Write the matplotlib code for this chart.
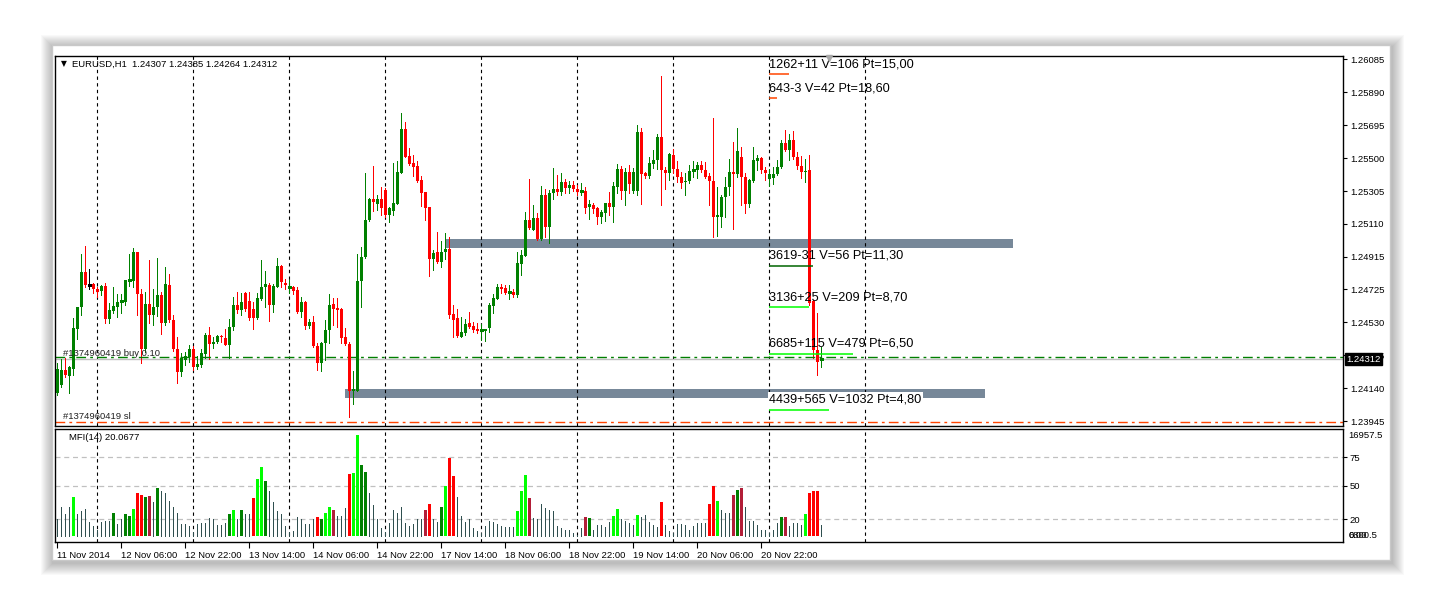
import matplotlib
matplotlib.use("Agg")
import matplotlib.pyplot as plt
import matplotlib.transforms as mtransforms
from matplotlib.patches import Rectangle
import numpy as np

plt.rcParams['font.family'] = ['Liberation Sans', 'DejaVu Sans']

# ---------------- data ----------------
symbol = "EURUSD,H1"
opens = [
 1.24109, 1.24159, 1.24247, 1.24212, 1.24251, 1.24492, 1.24618, 1.24826, 1.24750, 1.24756,
 1.24726, 1.24716, 1.24744, 1.24551, 1.24598, 1.24622, 1.24653, 1.24649, 1.24777, 1.24773,
 1.24945, 1.24694, 1.24369, 1.24637, 1.24572, 1.24618, 1.24691, 1.24523, 1.24750, 1.24543,
 1.24369, 1.24237, 1.24306, 1.24322, 1.24369, 1.24267, 1.24277, 1.24342, 1.24454, 1.24401,
 1.24411, 1.24448, 1.24438, 1.24395, 1.24503, 1.24631, 1.24602, 1.24700, 1.24657, 1.24606,
 1.24553, 1.24669, 1.24736, 1.24752, 1.24633, 1.24740, 1.24862, 1.24763, 1.24732, 1.24736,
 1.24720, 1.24590, 1.24651, 1.24507, 1.24533, 1.24391, 1.24287, 1.24405, 1.24484, 1.24637,
 1.24612, 1.24606, 1.24440, 1.24399, 1.24125, 1.24125, 1.24773, 1.24917, 1.25134, 1.25258,
 1.25228, 1.25258, 1.25311, 1.25163, 1.25189, 1.25228, 1.25414, 1.25670, 1.25512, 1.25473,
 1.25453, 1.25370, 1.25299, 1.25213, 1.24905, 1.24943, 1.24887, 1.24946, 1.24962, 1.24578,
 1.24556, 1.24444, 1.24467, 1.24523, 1.24509, 1.24491, 1.24477, 1.24479, 1.24497, 1.24627,
 1.24668, 1.24739, 1.24731, 1.24706, 1.24708, 1.24688, 1.24873, 1.24923, 1.25133, 1.25074,
 1.25145, 1.25021, 1.25281, 1.25094, 1.25291, 1.25315, 1.25301, 1.25358, 1.25325, 1.25340,
 1.25315, 1.25299, 1.25303, 1.25212, 1.25222, 1.25202, 1.25153, 1.25173, 1.25232, 1.25212,
 1.25330, 1.25435, 1.25303, 1.25417, 1.25307, 1.25305, 1.25653, 1.25413, 1.25393, 1.25462,
 1.25488, 1.25622, 1.25429, 1.25413, 1.25518, 1.25435, 1.25386, 1.25356, 1.25362, 1.25421,
 1.25429, 1.25456, 1.25429, 1.25393, 1.25366, 1.25153, 1.25153, 1.25267, 1.25326, 1.25417,
 1.25405, 1.25504, 1.25390, 1.25228, 1.25366, 1.25484, 1.25498, 1.25429, 1.25374, 1.25382,
 1.25405, 1.25445, 1.25587, 1.25547, 1.25606, 1.25508, 1.25453, 1.25417, 1.25429, 1.24657,
 1.24365, 1.24307]
highs = [
 1.24287, 1.24310, 1.24316, 1.24271, 1.24553, 1.24622, 1.24933, 1.24980, 1.24842, 1.24763,
 1.24740, 1.24748, 1.24761, 1.24641, 1.24736, 1.24696, 1.24696, 1.24779, 1.24931, 1.24970,
 1.24945, 1.24724, 1.24706, 1.24897, 1.24726, 1.24909, 1.24710, 1.24858, 1.24815, 1.24572,
 1.24440, 1.24346, 1.24356, 1.24395, 1.24389, 1.24330, 1.24369, 1.24464, 1.24503, 1.24440,
 1.24454, 1.24454, 1.24492, 1.24549, 1.24681, 1.24706, 1.24704, 1.24710, 1.24710, 1.24651,
 1.24700, 1.24897, 1.24830, 1.24760, 1.24756, 1.24909, 1.24870, 1.24785, 1.24779, 1.24744,
 1.24740, 1.24681, 1.24657, 1.24551, 1.24566, 1.24409, 1.24415, 1.24543, 1.24696, 1.24671,
 1.24673, 1.24612, 1.24498, 1.24413, 1.24243, 1.24933, 1.24976, 1.25414, 1.25262, 1.25453,
 1.25282, 1.25331, 1.25321, 1.25213, 1.25473, 1.25482, 1.25768, 1.25713, 1.25561, 1.25518,
 1.25482, 1.25394, 1.25299, 1.25213, 1.24957, 1.25063, 1.25009, 1.25055, 1.25035, 1.24631,
 1.24610, 1.24562, 1.24546, 1.24590, 1.24531, 1.24523, 1.24519, 1.24491, 1.24641, 1.24696,
 1.24755, 1.24753, 1.24749, 1.24747, 1.24724, 1.24942, 1.24956, 1.25181, 1.25376, 1.25222,
 1.25173, 1.25334, 1.25315, 1.25311, 1.25439, 1.25397, 1.25409, 1.25374, 1.25366, 1.25366,
 1.25340, 1.25350, 1.25326, 1.25252, 1.25236, 1.25212, 1.25193, 1.25236, 1.25301, 1.25358,
 1.25464, 1.25453, 1.25439, 1.25458, 1.25439, 1.25695, 1.25675, 1.25419, 1.25508, 1.25547,
 1.25642, 1.25986, 1.25449, 1.25531, 1.25551, 1.25482, 1.25415, 1.25409, 1.25456, 1.25484,
 1.25478, 1.25484, 1.25476, 1.25413, 1.25734, 1.25330, 1.25281, 1.25390, 1.25496, 1.25594,
 1.25675, 1.25563, 1.25413, 1.25378, 1.25563, 1.25518, 1.25504, 1.25449, 1.25433, 1.25445,
 1.25488, 1.25606, 1.25665, 1.25642, 1.25661, 1.25537, 1.25512, 1.25492, 1.25518, 1.24661,
 1.24586, 1.24385]
lows = [
 1.24099, 1.24149, 1.24208, 1.24109, 1.24218, 1.24428, 1.24572, 1.24740, 1.24724, 1.24700,
 1.24681, 1.24691, 1.24527, 1.24527, 1.24582, 1.24563, 1.24582, 1.24631, 1.24744, 1.24740,
 1.24572, 1.24287, 1.24356, 1.24527, 1.24511, 1.24566, 1.24458, 1.24511, 1.24533, 1.24362,
 1.24172, 1.24212, 1.24277, 1.24294, 1.24247, 1.24251, 1.24267, 1.24316, 1.24314, 1.24375,
 1.24405, 1.24415, 1.24395, 1.24316, 1.24484, 1.24582, 1.24572, 1.24596, 1.24543, 1.24492,
 1.24549, 1.24661, 1.24622, 1.24539, 1.24592, 1.24736, 1.24740, 1.24728, 1.24704, 1.24694,
 1.24582, 1.24563, 1.24488, 1.24494, 1.24385, 1.24247, 1.24243, 1.24306, 1.24405, 1.24513,
 1.24503, 1.24405, 1.24395, 1.23972, 1.24046, 1.24125, 1.24622, 1.24907, 1.25130, 1.25189,
 1.25193, 1.25163, 1.25154, 1.25124, 1.25163, 1.25228, 1.25409, 1.25504, 1.25459, 1.25394,
 1.25358, 1.25217, 1.25134, 1.24805, 1.24838, 1.24882, 1.24854, 1.24901, 1.24552, 1.24444,
 1.24440, 1.24440, 1.24454, 1.24497, 1.24473, 1.24467, 1.24424, 1.24420, 1.24473, 1.24586,
 1.24668, 1.24700, 1.24696, 1.24664, 1.24676, 1.24676, 1.24806, 1.24921, 1.25078, 1.25074,
 1.25015, 1.25015, 1.25035, 1.24999, 1.25256, 1.25281, 1.25281, 1.25291, 1.25291, 1.25307,
 1.25281, 1.25281, 1.25173, 1.25137, 1.25177, 1.25108, 1.25114, 1.25129, 1.25163, 1.25124,
 1.25291, 1.25256, 1.25222, 1.25295, 1.25291, 1.25281, 1.25228, 1.25380, 1.25380, 1.25439,
 1.25433, 1.25224, 1.25315, 1.25370, 1.25413, 1.25360, 1.25321, 1.25283, 1.25350, 1.25390,
 1.25380, 1.25419, 1.25384, 1.25224, 1.25031, 1.25039, 1.25090, 1.25153, 1.25281, 1.25078,
 1.25386, 1.25222, 1.25173, 1.25212, 1.25360, 1.25429, 1.25409, 1.25370, 1.25334, 1.25346,
 1.25399, 1.25439, 1.25543, 1.25488, 1.25492, 1.25433, 1.25379, 1.25358, 1.24631, 1.24320,
 1.24215, 1.24264]
closes = [
 1.24251, 1.24247, 1.24218, 1.24267, 1.24494, 1.24618, 1.24826, 1.24748, 1.24750, 1.24726,
 1.24710, 1.24744, 1.24551, 1.24602, 1.24626, 1.24651, 1.24655, 1.24779, 1.24779, 1.24945,
 1.24694, 1.24369, 1.24637, 1.24572, 1.24618, 1.24691, 1.24523, 1.24756, 1.24543, 1.24369,
 1.24237, 1.24316, 1.24330, 1.24369, 1.24267, 1.24283, 1.24346, 1.24454, 1.24401, 1.24415,
 1.24450, 1.24440, 1.24395, 1.24503, 1.24631, 1.24602, 1.24651, 1.24606, 1.24553, 1.24553,
 1.24671, 1.24736, 1.24756, 1.24633, 1.24744, 1.24862, 1.24769, 1.24752, 1.24736, 1.24716,
 1.24590, 1.24649, 1.24507, 1.24529, 1.24391, 1.24291, 1.24405, 1.24484, 1.24631, 1.24610,
 1.24602, 1.24438, 1.24399, 1.24125, 1.24133, 1.24773, 1.24917, 1.25134, 1.25256, 1.25238,
 1.25256, 1.25203, 1.25163, 1.25203, 1.25232, 1.25419, 1.25670, 1.25508, 1.25465, 1.25449,
 1.25364, 1.25295, 1.25207, 1.24905, 1.24937, 1.24888, 1.24946, 1.24962, 1.24572, 1.24542,
 1.24448, 1.24471, 1.24519, 1.24503, 1.24483, 1.24475, 1.24481, 1.24489, 1.24631, 1.24672,
 1.24737, 1.24728, 1.24704, 1.24710, 1.24688, 1.24877, 1.24926, 1.25133, 1.25086, 1.25145,
 1.25019, 1.25281, 1.25094, 1.25291, 1.25315, 1.25299, 1.25358, 1.25323, 1.25340, 1.25315,
 1.25301, 1.25303, 1.25206, 1.25228, 1.25200, 1.25153, 1.25179, 1.25232, 1.25212, 1.25336,
 1.25435, 1.25305, 1.25417, 1.25346, 1.25417, 1.25653, 1.25405, 1.25395, 1.25468, 1.25488,
 1.25622, 1.25429, 1.25413, 1.25521, 1.25433, 1.25386, 1.25354, 1.25366, 1.25423, 1.25429,
 1.25458, 1.25429, 1.25390, 1.25366, 1.25153, 1.25163, 1.25271, 1.25330, 1.25417, 1.25405,
 1.25543, 1.25390, 1.25228, 1.25370, 1.25488, 1.25498, 1.25429, 1.25413, 1.25405, 1.25405,
 1.25449, 1.25587, 1.25547, 1.25606, 1.25508, 1.25453, 1.25419, 1.25425, 1.24645, 1.24365,
 1.24296, 1.24312]

mfi_values = [
 20, 31, 25, 31, 40, 25, 27, 29, 18, 14,
 11, 18, 19, 19, 26, 16, 20, 25, 23, 29,
 43, 42, 40, 41, 35, 48, 45, 43, 36, 31,
 26, 16, 16, 14, 9, 16, 17, 17, 21, 20,
 15, 15, 17, 25, 28, 20, 28, 25, 25, 39,
 56, 66, 54, 45, 35, 27, 25, 14, 9, 10,
 22, 20, 16, 16, 20, 22, 20, 26, 31, 28,
 23, 23, 30, 60, 61, 95, 68, 62, 43, 33,
 20, 12, 9, 17, 28, 26, 31, 17, 14, 16,
 20, 20, 28, 34, 20, 18, 31, 50, 74, 58,
 40, 23, 18, 20, 12, 10, 8, 14, 19, 18,
 16, 14, 13, 13, 13, 27, 45, 59, 39, 21,
 20, 34, 30, 28, 27, 14, 12, 11, 11, 8,
 6, 12, 22, 21, 11, 15, 15, 13, 18, 23,
 29, 20, 19, 17, 15, 24, 22, 24, 18, 15,
 13, 35, 15, 10, 8, 16, 16, 15, 11, 14,
 17, 17, 17, 34, 50, 36, 28, 26, 26, 42,
 46, 48, 31, 19, 19, 15, 11, 11, 8, 11,
 17, 22, 22, 14, 17, 17, 15, 25, 43, 45,
 45, 15]
mfi_codes = ("nnnnLnnnnn" "nnnnGnnGGL" "RRGCnGnnnn" "nnnnnnnnnn" "nnnGLnGnnR"
             "LLGnnnnnnn" "nnnnnRGLLC" "nnnRLLGGnn" "nnnnnnnnnn" "nnCRnnGLRR"
             "nnnnnnnnnn" "nnnnnLLLCn" "nnnnnnnnnn" "nnCGnnnnnL" "LnnnnLnnnn"
             "nRnnnnnnnn" "nnnRRLnnnC" "GCnnnnnnnn" "nGCnnnnLRR" "Rn")
mfi_label = "MFI(14) 20.0677"
mfi_axis_labels = ["75", "50", "20"]
mfi_levels = [75, 50, 20]

date_labels = ["11 Nov 2014", "12 Nov 06:00", "12 Nov 22:00", "13 Nov 14:00",
               "14 Nov 06:00", "14 Nov 22:00", "17 Nov 14:00", "18 Nov 06:00",
               "18 Nov 22:00", "19 Nov 14:00", "20 Nov 06:00", "20 Nov 22:00"]
date_bars = [0, 16, 32, 48, 64, 80, 96, 112, 128, 144, 160, 176]
day_sep_bars = [10, 34, 58, 82, 106, 130, 154, 178, 202]

price_ticks = [1.26085, 1.25890, 1.25695, 1.25500, 1.25305, 1.25110,
               1.24915, 1.24725, 1.24530, 1.24335, 1.24140, 1.23945]
bid_price = 1.24312
buy_price = 1.24325
sl_price = 1.23940
order_text = ["#1374960419 buy 0.10", "#1374960419 sl"]
order_text_prices = [1.24346, 1.23975]

zone_start = [97, 72]
zone_end = [239, 232]
zone_low = [1.24970, 1.24083]
zone_high = [1.25021, 1.24136]

ann_texts = ["1262+11 V=106 Pt=15,00", "643-3 V=42 Pt=18,60", "3619-31 V=56 Pt=11,30",
             "3136+25 V=209 Pt=8,70", "6685+115 V=479 Pt=6,50", "4439+565 V=1032 Pt=4,80"]
ann_text_prices = [1.26050, 1.25911, 1.24921, 1.24678, 1.24401, 1.24070]
ann_line_prices = [1.25995, 1.25855, 1.24862, 1.24619, 1.24341, 1.24011]
ann_line_end = [183, 180, 189, 188, 199, 193]
ann_colors = ['#FF4500', '#FF4500', '#006400', '#00FF00', '#00FF00', '#00FF00']
ann_start = 178

# ---------------- figure ----------------
W, H = 1442, 614
fig = plt.figure(figsize=(W / 100, H / 100), dpi=100)
fig.patch.set_facecolor('white')

def fx(px):
    return px / W

def fy(py):
    return 1 - py / H

# window shadow + window
wx0, wy0, wx1, wy1 = 52, 45, 1390, 560
for k in range(12, 0, -1):
    r = Rectangle((fx(wx0 - k + 1), fy(wy1 + k + 3)), fx(wx1 - wx0 + 2 * k + 1), (wy1 - wy0 + 2 * k + 1) / H,
                  transform=fig.transFigure, facecolor=(0.25, 0.25, 0.25), alpha=0.03,
                  edgecolor='none', zorder=-20)
    fig.patches.append(r)
fig.patches.append(Rectangle((fx(wx0), fy(wy1)), fx(wx1 - wx0), (wy1 - wy0) / H,
                             transform=fig.transFigure, facecolor='white',
                             edgecolor='#C8C8C8', lw=1, zorder=-10))

ax = fig.add_axes([fx(55), fy(426), fx(1343) - fx(55), fy(56) - fy(426)])
axm = fig.add_axes([fx(55), fy(542), fx(1343) - fx(55), fy(429) - fy(542)])

n = len(opens)
idx = np.arange(n)
o = np.array(opens); h = np.array(highs); l = np.array(lows); c = np.array(closes)
# 4 px per bar; bar centres fall on pixel centres
xmin, xmax = -0.625, 321.375
bw = 0.74

# ---------------- price panel ----------------
ax.set_xlim(xmin, xmax)
ax.set_ylim(1.23916, 1.26103)

for s, e, lo, hi in zip(zone_start, zone_end, zone_low, zone_high):
    ax.add_patch(Rectangle((s, lo), e - s, hi - lo, facecolor='#778899',
                           edgecolor='none', zorder=1))

for d in day_sep_bars:
    ax.axvline(d, color='black', lw=0.8, ls=(0, (3, 3)), zorder=1.5)

cols = np.where(c > o, '#008000', np.where(c < o, '#FF0000', '#000000'))
ax.vlines(idx, l, h, colors=cols, lw=0.72, zorder=2, antialiased=False)
body_lo = np.minimum(o, c)
body_h = np.abs(c - o)
ax.bar(idx, body_h, bottom=body_lo, width=bw, color=cols, lw=0,
       zorder=3, antialiased=False)
flat = body_h < 0.00008
ax.hlines(c[flat], idx[flat] - bw / 2, idx[flat] + bw / 2, colors=cols[flat], lw=0.9,
          zorder=3, antialiased=False)

# order lines
ax.axhline(bid_price, color='#C0C0C0', lw=1, zorder=1.8)
ax.axhline(buy_price, color='#007F00', lw=1, ls=(0, (7, 3, 2, 3)), zorder=2.5)
ax.axhline(sl_price, color='#FF4500', lw=1, ls=(0, (7, 3, 2, 3)), zorder=2.5)
for t, p in zip(order_text, order_text_prices):
    ax.text(1.5, p, t, fontsize=6.8, color='#202020', ha='left', va='center', zorder=6)

# annotations
for t, tp, lp, le, col in zip(ann_texts, ann_text_prices, ann_line_prices, ann_line_end, ann_colors):
    kw = {}
    if t.startswith("4439"):
        kw['bbox'] = dict(boxstyle='square,pad=0.12', fc='white', ec='none')
    ax.text(ann_start - 0.1, tp, t, fontsize=9.2, color='black', ha='left',
            va='center', zorder=7, **kw)
    ax.plot([ann_start, le], [lp, lp], color=col, lw=1.1, zorder=6, solid_capstyle='butt')

# chart shift marker
tb = mtransforms.blended_transform_factory(ax.transData, ax.transAxes)
ax.plot([192.9], [0.995], marker='v', color='#A8A8A8', ms=5, transform=tb,
        clip_on=False, zorder=8)

ax.yaxis.set_ticks_position('right')
ax.set_yticks(price_ticks)
ax.set_yticklabels([f"{p:.5f}" for p in price_ticks])
ax.tick_params(axis='y', direction='out', length=3, width=0.8, pad=2, labelsize=6.8,
               colors='black', right=True, left=False, labelright=True, labelleft=False)
ax.tick_params(axis='x', bottom=False, labelbottom=False)
for sp in ax.spines.values():
    sp.set_color('black'); sp.set_linewidth(1)

bt = mtransforms.blended_transform_factory(ax.transAxes, ax.transData)
ax.text(1.0025, bid_price, f"{bid_price:.5f}", transform=bt, fontsize=6.8, color='white',
        ha='left', va='center', zorder=20, clip_on=False,
        bbox=dict(boxstyle='square,pad=0.18', fc='black', ec='black'))

# ---------------- MFI panel ----------------
axm.set_xlim(xmin, xmax)
axm.set_ylim(0, 100)
for lv in mfi_levels:
    axm.axhline(lv, color='#C0C0C0', lw=0.9, ls=(0, (4, 3)), zorder=0.5)
for d in day_sep_bars:
    axm.axvline(d, color='black', lw=0.8, ls=(0, (3, 3)), zorder=1.5)

mv = np.array(mfi_values, dtype=float)
codes = np.array(list(mfi_codes))
cmap = {'L': '#00FF00', 'G': '#008000', 'R': '#FF0000', 'C': '#B21E38'}
neutral = codes == 'n'
base = 5.3
axm.vlines(idx[neutral], base, mv[neutral], colors='#2F4F4F', lw=0.72, zorder=2,
           antialiased=False)
colored = ~neutral
axm.bar(idx[colored], mv[colored] - base, bottom=base, width=bw,
        color=[cmap[k] for k in codes[colored]], lw=0, zorder=3, antialiased=False)

axm.yaxis.set_ticks_position('right')
axm.set_yticks(mfi_levels)
axm.set_yticklabels(mfi_axis_labels)
axm.tick_params(axis='y', direction='out', length=3, width=0.8, pad=2, labelsize=6.8,
                right=True, left=False, labelright=True, labelleft=False)
mt = mtransforms.blended_transform_factory(axm.transAxes, axm.transData)
axm.text(1.004, 94, "16957.5", transform=mt, fontsize=6.8, ha='left', va='center', clip_on=False)
axm.text(1.004, 5.6, "6800.5", transform=mt, fontsize=6.8, ha='left', va='center', clip_on=False)
axm.text(1.004, 5.6, "0.00", transform=mt, fontsize=6.8, ha='left', va='center', clip_on=False)

axm.set_xticks(date_bars)
axm.set_xticklabels(date_labels)
axm.tick_params(axis='x', direction='out', length=4, width=0.8, pad=2.5, labelsize=6.8)
for lab in axm.get_xticklabels():
    lab.set_ha('left')
for sp in axm.spines.values():
    sp.set_color('black'); sp.set_linewidth(1)

# ---------------- header texts ----------------
fig.text(fx(61), fy(64), "\u25BC", fontsize=5.5, ha='left', va='center',
         family=['DejaVu Sans'])
fig.text(fx(72), fy(64),
         f"{symbol}  {opens[-1]:.5f} {highs[-1]:.5f} {lows[-1]:.5f} {closes[-1]:.5f}",
         fontsize=6.8, ha='left', va='center', color='black')
fig.text(fx(69), fy(437), mfi_label, fontsize=6.8, ha='left', va='center', color='black')

fig.savefig("out.png", dpi=100, facecolor='white')
